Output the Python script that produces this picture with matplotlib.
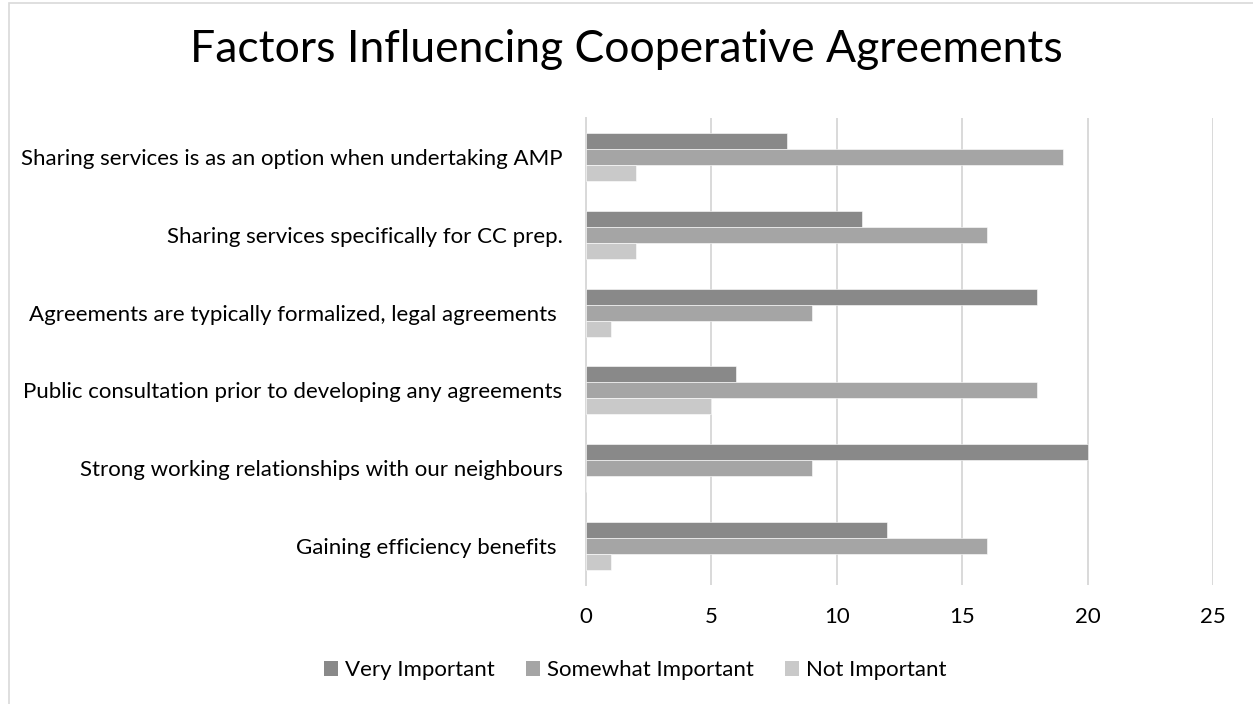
import matplotlib
matplotlib.use("Agg")
import matplotlib.pyplot as plt
from matplotlib.patches import Rectangle, Patch
import numpy as np

# data, top category first
categories = [
    "Sharing services is as an option when undertaking AMP",
    "Sharing services specifically for CC prep.",
    "Agreements are typically formalized, legal agreements ",
    "Public consultation prior to developing any agreements",
    "Strong working relationships with our neighbours",
    "Gaining efficiency benefits ",
]
very_important = [8, 11, 18, 6, 20, 12]
somewhat_important = [19, 16, 9, 18, 9, 16]
not_important = [2, 2, 1, 5, 0, 1]
series_names = ["Very Important", "Somewhat Important", "Not Important"]
x_ticks = [0, 5, 10, 15, 20, 25]

colours = ["#898989", "#a5a5a5", "#c9c9c9"]
grid_col = "#d9d9d9"

plt.rcParams['font.family'] = ['Lato', 'DejaVu Sans']

W, H = 1253, 704
fig = plt.figure(figsize=(W / 100, H / 100), dpi=100)

# outer chart border (light gray, open to the right/bottom like the crop)
fig.patches.append(Rectangle((9 / W, -0.1), 1.2, 1.1 - 3 / H, transform=fig.transFigure,
                             fill=False, edgecolor=grid_col, linewidth=1.2))

ax = fig.add_axes([586 / W, (H - 585) / H, (1213 - 586) / W, (585 - 118) / H])

n = len(categories)
y = np.arange(n)[::-1]          # first category on top
bh = 0.206
series = [very_important, somewhat_important, not_important]
offsets = [bh, 0, -bh]
for vals, off, col, name in zip(series, offsets, colours, series_names):
    ax.barh(y + off, vals, height=bh, color=col, edgecolor="white", linewidth=0.4,
            label=name, zorder=3)

ax.set_xlim(0, 25)
ax.set_ylim(-0.5, n - 0.5)
ax.set_xticks(x_ticks)
ax.set_xticklabels([str(t) for t in x_ticks])
ax.set_yticks(y)
ax.set_yticklabels(categories)

ax.xaxis.grid(True, color=grid_col, linewidth=1.4, zorder=0)
ax.set_axisbelow(True)
for s in ["top", "right", "bottom"]:
    ax.spines[s].set_visible(False)
ax.spines["left"].set_color(grid_col)
ax.spines["left"].set_linewidth(1.4)
ax.tick_params(axis="both", length=0, labelsize=16, colors="#000000")
ax.tick_params(axis="x", pad=16)
ax.tick_params(axis="y", pad=17)

fig.text(0.5, (H - 50) / H, "Factors Influencing Cooperative Agreements",
         ha="center", va="center", fontsize=32)

handles = [Patch(facecolor=c, edgecolor="none") for c in colours]
fig.legend(handles, series_names, loc="center", bbox_to_anchor=(635 / W, (H - 670) / H),
           ncol=3, frameon=False, fontsize=16, handlelength=0.65, handleheight=0.65,
           handletextpad=0.3, columnspacing=1.4)

fig.savefig("out.png", dpi=100)
